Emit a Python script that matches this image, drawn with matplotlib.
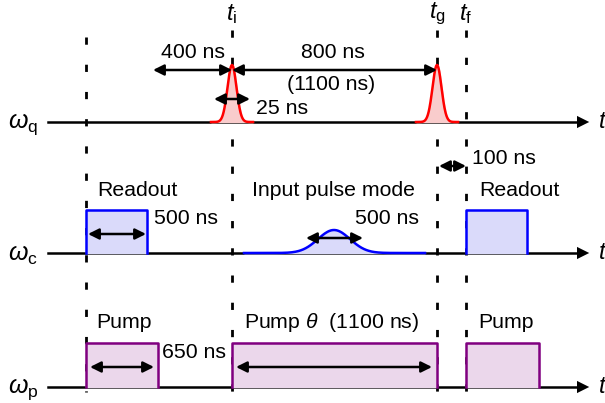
import numpy as np
import matplotlib.pyplot as plt

plt.rcParams['font.family'] = ['Liberation Sans', 'DejaVu Sans']
plt.rcParams['mathtext.fontset'] = 'custom'
plt.rcParams['mathtext.rm'] = 'Liberation Sans'
plt.rcParams['mathtext.it'] = 'Liberation Sans:italic'

# schematic timeline (not to scale), in diagram units
t_readout1 = 86
t_i = 232
t_g = 437
t_f = 466
readout_len = 61
pump1_len = 72
pump3_len = 73
cav_pulse_centre = 334

rows = ['q', 'c', 'p']
row_y = [122, 253, 387]
marker_names = ['', r'$t_{\mathrm{i}}$', r'$t_{\mathrm{g}}$', r'$t_{\mathrm{f}}$']
marker_x = [t_readout1, t_i, t_g, t_f]

fig = plt.figure(figsize=(6.05, 4.03), dpi=100)
ax = fig.add_axes([0, 0, 1, 1])
ax.set_xlim(0, 605)
ax.set_ylim(403, 0)
ax.axis('off')

fs = 15.3

# baselines with arrows
for r, y in zip(rows, row_y):
    ax.plot([48, 578], [y, y], color='black', lw=1.8, zorder=3)
    ax.annotate('', xy=(592, y), xytext=(575, y),
                arrowprops=dict(arrowstyle='-|>', color='black', lw=0,
                                mutation_scale=22), zorder=3)
    ax.text(598, y, '$t$', fontsize=17, va='center', ha='left')
    ax.text(8, y + 2, r'$\omega_{\mathrm{%s}}$' % r, fontsize=18, va='center', ha='left')

# dashed markers
for name, x in zip(marker_names, marker_x):
    top = 37 if name == '' else 30
    ax.plot([x, x], [top, 392], color='black', lw=2.0, ls=(0, (2.6, 7.2)), zorder=2)
    if name:
        ax.text(x, 14, name, fontsize=17, ha='center', va='center')


def darrow(x0, x1, y):
    ax.annotate('', xy=(x1, y), xytext=(x0, y),
                arrowprops=dict(arrowstyle='<|-|>', color='black', lw=1.8,
                                mutation_scale=16, shrinkA=0, shrinkB=0), zorder=5)


# qubit pulses
yq = row_y[0]
for c in [t_i, t_g]:
    xs = np.linspace(c - 21, c + 21, 200)
    ys = yq - 57 * np.exp(-(xs - c) ** 2 / (2 * 4.5 ** 2))
    ax.fill_between(xs, ys, yq, color='#f9cccc', zorder=3)
    ax.plot(xs, ys, color='red', lw=1.8, zorder=4)

darrow(153, t_i, 70)
ax.text(193, 52, '400 ns', fontsize=fs, ha='center', va='center')
darrow(t_i, t_g, 70)
ax.text(333, 53, '800 ns', fontsize=fs, ha='center', va='center')
ax.text(331, 85, '(1100 ns)', fontsize=fs, ha='center', va='center')
darrow(214, 250, 99)
ax.text(256, 108, '25 ns', fontsize=fs, ha='left', va='center')

# cavity
yc = row_y[1]
for x0 in [t_readout1, t_f]:
    ax.fill_between([x0, x0 + readout_len], yc - 43, yc, color='#dadafa', zorder=3)
    ax.plot([x0, x0, x0 + readout_len, x0 + readout_len], [yc, yc - 43, yc - 43, yc],
            color='#0000ff', lw=1.8, zorder=4)
xs = np.linspace(244, 425, 300)
ys = yc - 23 * np.exp(-(xs - cav_pulse_centre) ** 2 / (2 * 16 ** 2))
ax.fill_between(xs, ys, yc, color='#dadafa', zorder=3)
ax.plot(xs, ys, color='#0000ff', lw=1.8, zorder=4)

ax.text(137, 190, 'Readout', fontsize=fs, ha='center', va='center')
ax.text(519, 190, 'Readout', fontsize=fs, ha='center', va='center')
ax.text(333, 190, 'Input pulse mode', fontsize=fs, ha='center', va='center')
darrow(88, 146, 234)
ax.text(154, 218, '500 ns', fontsize=fs, ha='left', va='center')
darrow(306, 363, 238)
ax.text(355, 218, '500 ns', fontsize=fs, ha='left', va='center')
darrow(439, t_f, 166)
ax.text(472, 158, '100 ns', fontsize=fs, ha='left', va='center')

# pump
yp = row_y[2]
pump_boxes = [(t_readout1, t_readout1 + pump1_len), (t_i, t_g), (t_f, t_f + pump3_len)]
for x0, x1 in pump_boxes:
    ax.fill_between([x0, x1], yp - 44, yp, color='#ebd7eb', zorder=3)
    ax.plot([x0, x0, x1, x1], [yp, yp - 44, yp - 44, yp], color='#800080', lw=1.8, zorder=4)

ax.text(124, 322, 'Pump', fontsize=fs, ha='center', va='center')
ax.text(332, 322, r'Pump $\theta$  (1100 ns)', fontsize=fs, ha='center', va='center')
ax.text(506, 322, 'Pump', fontsize=fs, ha='center', va='center')
darrow(90, 154, 367)
ax.text(162, 352, '650 ns', fontsize=fs, ha='left', va='center')
darrow(236, 432, 367)

fig.savefig('out.png', dpi=100)
